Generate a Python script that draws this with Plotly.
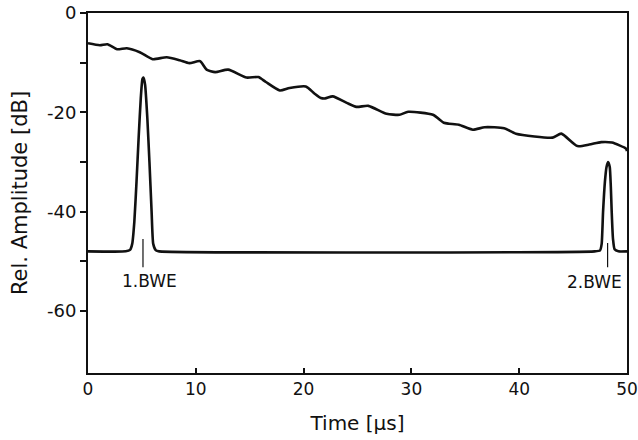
import plotly.graph_objects as go

# Upper curve (attenuation trend)
time_upper = [0.0, 1.1, 1.8, 2.7, 3.6, 4.8, 6.0, 7.3, 8.5, 9.4, 10.4, 11.0, 11.8, 13.0, 14.7,
              15.8, 16.5, 17.8, 18.7, 20.2, 21.0, 21.6, 22.0, 22.7, 24.0, 24.9, 26.0, 27.7,
              28.9, 29.7, 32.0, 33.0, 33.5, 34.4, 35.7, 36.8, 38.6, 39.7, 43.1, 43.9, 45.4,
              46.5, 47.6, 48.6, 49.9, 50.0]
amp_upper = [-6.1, -6.5, -6.3, -7.3, -7.1, -7.9, -9.3, -8.9, -9.5, -10.1, -9.7, -11.4, -11.9,
             -11.4, -13.0, -12.9, -13.9, -15.6, -15.1, -14.8, -16.2, -17.1, -17.2, -16.8,
             -18.1, -18.9, -18.7, -20.3, -20.5, -19.9, -20.5, -22.1, -22.3, -22.5, -23.5,
             -23.0, -23.2, -24.3, -25.1, -24.3, -26.8, -26.5, -26.0, -26.1, -27.3, -27.8]

# Echo trace (baseline with 1st and 2nd back-wall echoes)
time_echo = [0.0, 3.5, 3.9, 4.1, 4.3, 4.5, 4.7, 4.9, 5.05, 5.15, 5.3, 5.5, 5.7, 5.9, 6.05,
             6.3, 6.6, 47.0, 47.5, 47.65, 47.78, 47.95, 48.1, 48.25, 48.4, 48.5, 48.58,
             48.7, 48.85, 49.2, 50.0]
amp_echo = [-48, -48, -47.7, -46.5, -42, -34, -25, -17, -13.3, -13, -14.5, -21, -30, -40,
            -46.5, -47.8, -48, -48, -47.8, -46.5, -40, -34, -31, -30, -31, -35, -40,
            -45.5, -47.6, -48, -48]

# Echo markers
marker_labels = ["1.BWE", "2.BWE"]
marker_x = [5.1, 48.2]
marker_top = [-45.5, -46.3]
marker_bottom = [-51.2, -51.2]
label_x = [5.7, 46.95]
label_y = [-54.0, -54.2]

x_ticks = [0, 10, 20, 30, 40, 50]
y_ticks = [0, -10, -20, -30, -40, -50, -60]
y_ticktext = ["0", "", "-20", "", "-40", "", "-60"]

FONT = "DejaVu Sans"
ink = "#111111"

fig = go.Figure()
fig.add_trace(go.Scatter(x=time_upper, y=amp_upper, mode="lines",
                         line=dict(color=ink, width=2.6, shape="spline", smoothing=0.6),
                         showlegend=False, hoverinfo="skip"))
fig.add_trace(go.Scatter(x=time_echo, y=amp_echo, mode="lines",
                         line=dict(color=ink, width=2.6, shape="spline", smoothing=0.5),
                         showlegend=False, hoverinfo="skip"))
for mx, t, b in zip(marker_x, marker_top, marker_bottom):
    fig.add_trace(go.Scatter(x=[mx, mx], y=[t, b], mode="lines",
                             line=dict(color=ink, width=1.2),
                             showlegend=False, hoverinfo="skip"))
for lab, lx, ly in zip(marker_labels, label_x, label_y):
    fig.add_annotation(x=lx, y=ly, text=lab, showarrow=False,
                       font=dict(family=FONT, size=17, color=ink),
                       xanchor="center", yanchor="middle")

fig.update_layout(
    width=638, height=440,
    margin=dict(l=88, r=11, t=13, b=67),
    paper_bgcolor="white", plot_bgcolor="white",
    font=dict(family=FONT, color=ink),
    xaxis=dict(range=[0, 50], tickvals=x_ticks, ticks="inside", ticklen=5,
               tickwidth=1.5, tickcolor=ink, showgrid=False, zeroline=False,
               showline=True, linecolor=ink, linewidth=2, mirror=True, automargin=False,
               ticklabeloverflow="allow",
               tickfont=dict(family=FONT, size=17, color=ink),
               title=dict(text="Time [µs]", font=dict(family=FONT, size=20, color=ink),
                          standoff=18)),
    yaxis=dict(range=[-72.5, 0], tickvals=y_ticks, ticktext=y_ticktext, ticks="outside",
               ticklen=6, tickwidth=1.5, tickcolor=ink, showgrid=False, zeroline=False,
               showline=True, linecolor=ink, linewidth=2, mirror=True, automargin=False,
               ticklabeloverflow="allow",
               tickfont=dict(family=FONT, size=18, color=ink),
               title=dict(text="Rel. Amplitude [dB]", font=dict(family=FONT, size=21, color=ink),
                          standoff=14)),
)

fig.write_html("out.html")
